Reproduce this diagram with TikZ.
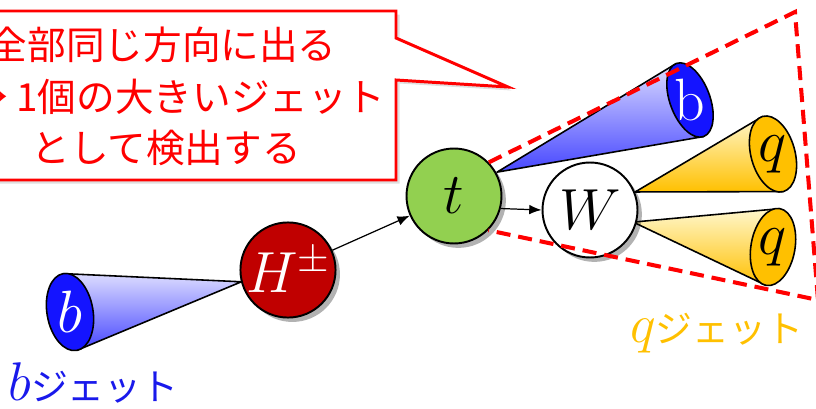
\documentclass[tikz,border=0pt]{standalone}
\usepackage{fix-cm}
\usepackage{fontspec}
\newfontfamily\jpfont{Noto Sans CJK JP}
\usetikzlibrary{arrows.meta,shadows}
\definecolor{hred}{RGB}{192,0,0}
\definecolor{tgreen}{RGB}{146,208,80}
\definecolor{bblue}{RGB}{20,20,255}
\definecolor{bpale}{RGB}{220,220,255}
\definecolor{bmid}{RGB}{70,70,255}
\definecolor{qgold}{RGB}{255,192,0}
\definecolor{qpale}{RGB}{255,247,205}
\definecolor{jblue}{RGB}{25,25,235}
\tikzset{
  ball/.style   ={circle, draw=black, line width=1.1pt, minimum size=1.9cm, inner sep=0pt,
                  font=\fontsize{33}{33}\selectfont,
                  drop shadow={shadow xshift=2.5pt, shadow yshift=-2.5pt, fill=black, opacity=0.3}},
  cn/.style     ={draw=black, line width=0.9pt, line join=round},
  capl/.style   ={inner sep=0pt, font=\fontsize{34}{34}\selectfont},
  arr/.style    ={draw=black, line width=0.7pt, -{Latex[length=7pt,width=5.5pt]}},
  jetbox/.style ={draw=red, line width=2.3pt, dash pattern=on 8pt off 4.5pt},
  bubble/.style ={draw=red, line width=1.7pt, fill=white,
                  drop shadow={shadow xshift=2pt, shadow yshift=-2pt, opacity=0.25}},
  ctxt/.style   ={text=red, font=\jpfont\fontsize{22}{22}\selectfont, inner sep=0pt},
  jlab/.style   ={font=\jpfont\fontsize{21}{21}\selectfont, inner sep=0pt},
}
\begin{document}
\begin{tikzpicture}[x=0.02cm,y=-0.02cm]
  \useasboundingbox (0,0) rectangle (816,409);
  \clip (0,0) rectangle (816,409);
  % b jet from H
  \begin{scope}[shift={(70,312)},rotate=10]
    \shade[top color=bpale,bottom color=bmid] (174,0) -- (0,-39) -- (0,39) -- cycle;
    \draw[cn] (0,-39) -- (174,0) -- (0,39);
    \filldraw[cn,fill=bblue] (0,0) ellipse [x radius=23,y radius=39];
    \node[capl,text=white] (bl) at (0,0) {$b$};
  \end{scope}
  % b jet from t
  \begin{scope}[shift={(690,100)},rotate=20.5]
    \shade[top color=bpale,bottom color=bmid] (-206,0) -- (0,-39) -- (0,39) -- cycle;
    \draw[cn] (0,-39) -- (-206,0) -- (0,39);
    \filldraw[cn,fill=bblue] (0,0) ellipse [x radius=20,y radius=39];
    \node[capl,text=white] (br) at (0,0) {b};
  \end{scope}
  % q jets from W
  \begin{scope}[shift={(773,154)},rotate=15.4]
    \shade[top color=qpale,bottom color=qgold] (-143,0) -- (0,-39) -- (0,39) -- cycle;
    \draw[cn] (0,-39) -- (-143,0) -- (0,39);
    \filldraw[cn,fill=qgold] (0,0) ellipse [x radius=22,y radius=39];
    \node[capl] (q1) at (0,0) {$q$};
  \end{scope}
  \begin{scope}[shift={(773,247)},rotate=-10.1]
    \shade[top color=qpale,bottom color=qgold] (-142,0) -- (0,-39) -- (0,39) -- cycle;
    \draw[cn] (0,-39) -- (-142,0) -- (0,39);
    \filldraw[cn,fill=qgold] (0,0) ellipse [x radius=22,y radius=39];
    \node[capl] (q2) at (0,0) {$q$};
  \end{scope}

  \node[ball,fill=hred,text=white] (hpm) at (288,270) {$H^{\pm}$};
  \node[ball,fill=tgreen] (top) at (454,196) {$t$};
  \node[ball,fill=white] (wb) at (590,210) {$W$};
  \draw[arr] (hpm) -- (top);
  \draw[arr] (top.-15) -- (wb.west);

  \coordinate (jtr) at (795,12);
  \coordinate (jbr) at (818,300);
  \draw[jetbox] (top.44) -- (jtr) -- (jbr) -- (top.-45);

  \filldraw[bubble] (-20,11) -- (396,11) -- (396,38) -- (508,87) -- (396,80) -- (396,180) -- (-20,180) -- cycle;
  \node[ctxt,anchor=east] (cl1) at (337,45) {全部同じ方向に出る};
  \node[ctxt,anchor=east] (cl2) at (386,97) {→ 1個の大きいジェット};
  \node[ctxt,anchor=west] (cl3) at (31,148) {として検出する};

  \node[jlab,text=jblue,anchor=west] (bjet) at (8,383) {{\fontsize{31}{31}\selectfont$b$}ジェット};
  \node[jlab,text=qgold,anchor=west] (qjet) at (630,333) {{\fontsize{31}{31}\selectfont$q$}ジェット};
\end{tikzpicture}
\end{document}
